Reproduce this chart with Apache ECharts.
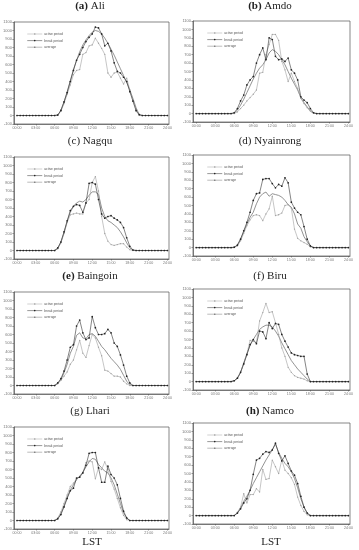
<!DOCTYPE html>
<html>
<head>
<meta charset="utf-8">
<script src="https://cdn.jsdelivr.net/npm/echarts@6/dist/echarts.min.js"></script>
<style>
html,body{margin:0;padding:0;background:#fff;}
#chart{width:359px;height:550px;}
</style>
</head>
<body>
<div id="chart"></div>
<script>
// ---- data ----
const hours = [0,0.5,1,1.5,2,2.5,3,3.5,4,4.5,5,5.5,6,6.5,7,7.5,8,8.5,9,9.5,10,10.5,11,11.5,12,12.5,13,13.5,14,14.5,15,15.5,16,16.5,17,17.5,18,18.5,19,19.5,20,20.5,21,21.5,22,22.5,23,23.5,24];
const xTickHours = [0,3,6,9,12,15,18,21,24];
const xTickLabels = ['00:00','03:00','06:00','09:00','12:00','15:00','18:00','21:00','24:00'];
const seriesNames = ['active period','break period','average'];
const stationLetters = ['(a)','(b)','(c)','(d)','(e)','(f)','(g)','(h)'];
const stationNames = ['Ali','Amdo','Nagqu','Nyainrong','Baingoin','Biru','Lhari','Namco'];

const aliActive  = [0,0,0,0,0,0,0,0,0,0,0,0, 0,5,50,140,250,360,480,530,540,720,740,820,830,910,850,790,720,500,450,500,510,440,370,440,300,170,50,5,0, 0,0,0,0,0,0,0,0];
const aliBreak   = [0,0,0,0,0,0,0,0,0,0,0,0, 0,5,60,160,270,400,530,650,720,800,870,920,960,1040,1030,960,820,850,760,620,520,500,450,400,280,170,60,10,0, 0,0,0,0,0,0,0,0];
const aliAverage = [0,0,0,0,0,0,0,0,0,0,0,0, 0,5,60,160,280,410,540,650,750,830,890,940,980,1000,990,960,910,850,780,710,630,550,470,390,300,200,90,10,0, 0,0,0,0,0,0,0,0];

const amdoActive  = [0,0,0,0,0,0,0,0,0,0,0,0, 0,20,60,100,150,190,230,280,480,490,700,820,940,940,870,620,520,380,480,380,300,180,120,70,30,5,0,0,0, 0,0,0,0,0,0,0,0];
const amdoBreak   = [0,0,0,0,0,0,0,0,0,0,0,0, 10,60,150,220,340,400,440,600,700,780,640,900,880,680,640,650,620,660,520,480,400,200,160,130,60,10,0,0,0, 0,0,0,0,0,0,0,0];
const amdoAverage = [0,0,0,0,0,0,0,0,0,0,0,0, 5,40,100,170,250,330,410,480,540,580,640,720,760,740,700,640,580,500,420,350,280,190,130,80,30,5,0,0,0, 0,0,0,0,0,0,0,0];

const nagquActive  = [0,0,0,0,0,0,0,0,0,0,0,0, 0,20,90,200,330,420,430,440,430,430,560,600,800,870,700,400,200,110,70,60,70,80,80,40,10,0,0,0,0, 0,0,0,0,0,0,0,0];
const nagquBreak   = [0,0,0,0,0,0,0,0,0,0,0,0, 0,30,100,220,350,470,520,540,530,450,560,790,800,780,600,430,380,400,410,380,360,330,270,150,50,5,0,0,0, 0,0,0,0,0,0,0,0];
const nagquAverage = [0,0,0,0,0,0,0,0,0,0,0,0, 0,25,100,210,340,450,520,560,580,570,600,650,690,690,660,500,400,350,330,300,270,220,160,90,30,5,0,0,0, 0,0,0,0,0,0,0,0];

const nyainrongActive  = [0,0,0,0,0,0,0,0,0,0,0,0, 0,20,80,170,260,330,380,390,380,320,400,460,610,380,390,410,500,510,470,220,110,80,60,40,10,0,0,0,0, 0,0,0,0,0,0,0,0];
const nyainrongBreak   = [0,0,0,0,0,0,0,0,0,0,0,0, 5,30,100,200,300,420,560,640,650,810,820,820,760,710,750,730,830,770,540,470,420,390,250,100,20,0,0,0,0, 0,0,0,0,0,0,0,0];
const nyainrongAverage = [0,0,0,0,0,0,0,0,0,0,0,0, 0,30,100,190,280,360,420,520,600,640,660,610,640,630,620,600,560,510,480,400,280,230,130,70,20,0,0,0,0, 0,0,0,0,0,0,0,0];

const baingoinActive  = [0,0,0,0,0,0,0,0,0,0,0,0, 0,20,60,110,160,250,300,420,530,380,330,470,600,560,450,350,180,170,140,110,110,100,50,20,0,0,0,0,0, 0,0,0,0,0,0,0,0];
const baingoinBreak   = [0,0,0,0,0,0,0,0,0,0,0,0, 0,30,80,170,300,450,480,700,770,620,540,560,810,680,600,600,610,660,620,500,460,360,240,110,30,0,0,0,0, 0,0,0,0,0,0,0,0];
const baingoinAverage = [0,0,0,0,0,0,0,0,0,0,0,0, 0,25,70,150,250,380,460,590,620,560,550,600,610,580,520,460,420,370,320,280,240,190,120,50,10,0,0,0,0, 0,0,0,0,0,0,0,0];

const biruActive  = [0,0,0,0,0,0,0,0,0,0,0,0, 10,40,110,220,330,490,480,460,720,820,930,820,830,700,560,400,300,170,110,70,50,40,30,10,0,0,0,0,0, 0,0,0,0,0,0,0,0];
const biruBreak   = [0,0,0,0,0,0,0,0,0,0,0,0, 10,40,110,210,320,440,500,450,600,590,510,700,630,690,680,560,480,410,340,320,310,300,300,90,0,0,0,0,0, 0,0,0,0,0,0,0,0];
const biruAverage = [0,0,0,0,0,0,0,0,0,0,0,0, 10,40,110,220,330,430,500,560,620,650,670,670,650,600,540,460,390,320,250,200,150,110,70,30,0,0,0,0,0, 0,0,0,0,0,0,0,0];

const lhariActive  = [0,0,0,0,0,0,0,0,0,0,0,0, 0,30,100,200,300,400,440,490,520,560,680,700,690,490,620,600,690,600,460,370,260,150,60,10,0,0,0,0,0, 0,0,0,0,0,0,0,0];
const lhariBreak   = [0,0,0,0,0,0,0,0,0,0,0,0, 0,20,70,160,260,350,380,500,510,560,650,790,800,800,620,450,450,640,540,500,420,260,110,30,0,0,0,0,0, 0,0,0,0,0,0,0,0];
const lhariAverage = [0,0,0,0,0,0,0,0,0,0,0,0, 0,20,80,170,270,360,420,480,520,570,630,690,730,720,660,620,580,560,500,420,310,200,90,30,0,0,0,0,0, 0,0,0,0,0,0,0,0];

const namcoActive  = [0,0,0,0,0,0,0,0,0,0,0,0, 0,40,100,260,150,250,250,320,280,550,430,440,660,580,500,660,540,500,450,370,220,120,50,10,0,0,0,0,0, 0,0,0,0,0,0,0,0];
const namcoBreak   = [0,0,0,0,0,0,0,0,0,0,0,0, 0,30,80,150,200,300,490,660,680,730,760,750,780,860,740,650,710,620,530,480,380,230,100,30,0,0,0,0,0, 0,0,0,0,0,0,0,0];
const namcoAverage = [0,0,0,0,0,0,0,0,0,0,0,0, 0,30,90,170,230,300,380,450,520,590,660,720,780,850,750,680,620,580,520,440,330,200,100,30,0,0,0,0,0, 0,0,0,0,0,0,0,0];

const stationData = [
  [aliActive, aliBreak, aliAverage],
  [amdoActive, amdoBreak, amdoAverage],
  [nagquActive, nagquBreak, nagquAverage],
  [nyainrongActive, nyainrongBreak, nyainrongAverage],
  [baingoinActive, baingoinBreak, baingoinAverage],
  [biruActive, biruBreak, biruAverage],
  [lhariActive, lhariBreak, lhariAverage],
  [namcoActive, namcoBreak, namcoAverage]
];

// ---- layout ----
const layout = [
  {left:13,  top:22,  width:156, height:102, tx:90,  ty:6},
  {left:193, top:21,  width:157, height:101, tx:270, ty:6},
  {left:13,  top:157, width:156, height:102, tx:90,  ty:141},
  {left:193, top:155, width:157, height:101, tx:270, ty:141},
  {left:13,  top:292, width:156, height:102, tx:90,  ty:276},
  {left:193, top:289, width:157, height:101, tx:270, ty:276},
  {left:13,  top:427, width:156, height:102, tx:90,  ty:411},
  {left:193, top:423, width:157, height:101, tx:270, ty:411}
];
const boldLetter = [true,true,false,false,true,false,false,true];

const axisCol = '#555';
const labCol = '#777';
const grids = [], xAxes = [], yAxes = [], series = [], legends = [], graphics = [];

layout.forEach((L, i) => {
  grids.push({left:L.left, top:L.top, width:L.width, height:L.height, show:true,
    borderColor:axisCol, borderWidth:0.7, backgroundColor:'transparent'});
  xAxes.push({type:'value', gridIndex:i, min:-0.5, max:24.25,
    axisLine:{show:true, onZero:false, lineStyle:{color:axisCol, width:0.7}},
    axisTick:{show:true, customValues:xTickHours, length:1.5, lineStyle:{color:axisCol, width:0.6}},
    axisLabel:{customValues:xTickHours, fontSize:3.6, color:labCol, margin:2, fontFamily:'Liberation Sans',
      formatter:(v)=>xTickLabels[xTickHours.indexOf(v)]},
    splitLine:{show:false}});
  yAxes.push({type:'value', gridIndex:i, min:-100, max:1100, interval:100,
    axisLine:{show:true, onZero:false, lineStyle:{color:axisCol, width:0.7}},
    axisTick:{show:true, length:1.5, lineStyle:{color:axisCol, width:0.6}},
    axisLabel:{fontSize:4, color:labCol, margin:2, fontFamily:'Liberation Sans',
      formatter:(v)=>String(v)},
    splitLine:{show:false}});
  const d = stationData[i];
  series.push({name:seriesNames[0], type:'line', xAxisIndex:i, yAxisIndex:i,
    data:hours.map((h,k)=>[h,d[0][k]]), symbol:'circle', symbolSize:1.3,
    lineStyle:{color:'#a0a0a0', width:0.6}, itemStyle:{color:'#a0a0a0'}, z:3});
  series.push({name:seriesNames[1], type:'line', xAxisIndex:i, yAxisIndex:i,
    data:hours.map((h,k)=>[h,d[1][k]]), symbol:'circle', symbolSize:1.7,
    lineStyle:{color:'#333', width:0.6}, itemStyle:{color:'#222'}, z:4});
  series.push({name:seriesNames[2], type:'line', xAxisIndex:i, yAxisIndex:i,
    data:hours.map((h,k)=>[h,d[2][k]]), showSymbol:false, symbol:'none',
    lineStyle:{color:'#777', width:0.8}, itemStyle:{color:'#777'}, z:2});
  legends.push({data:seriesNames, orient:'vertical', left:L.left+14, top:L.top+10.5,
    itemWidth:15, itemHeight:2, itemGap:3.6, padding:0, selectedMode:false,
    lineStyle:{width:0.5}, itemStyle:{borderWidth:0},
    textStyle:{fontSize:3.3, color:'#555', padding:[0,0,0,-3]}});
  const letter = boldLetter[i] ? '{b|' + stationLetters[i] + '}' : stationLetters[i];
  graphics.push({type:'text', x:L.tx, y:L.ty, style:{text: letter + ' ' + stationNames[i],
    font:'11px "Liberation Serif"', fill:'#222', align:'center', verticalAlign:'middle',
    rich:{b:{fontWeight:'bold', fontSize:11, fontFamily:'Liberation Serif', fill:'#222'}}}});
});
graphics.push({type:'text', x:92, y:542, style:{text:'LST', font:'11px "Liberation Serif"', fill:'#222', align:'center', verticalAlign:'middle'}});
graphics.push({type:'text', x:271, y:542, style:{text:'LST', font:'11px "Liberation Serif"', fill:'#222', align:'center', verticalAlign:'middle'}});

const chart = echarts.init(document.getElementById('chart'), null, {renderer:'canvas'});
chart.setOption({
  animation:false,
  backgroundColor:'#fff',
  grid:grids, xAxis:xAxes, yAxis:yAxes, series:series, legend:legends, graphic:graphics
});
</script>
</body>
</html>
